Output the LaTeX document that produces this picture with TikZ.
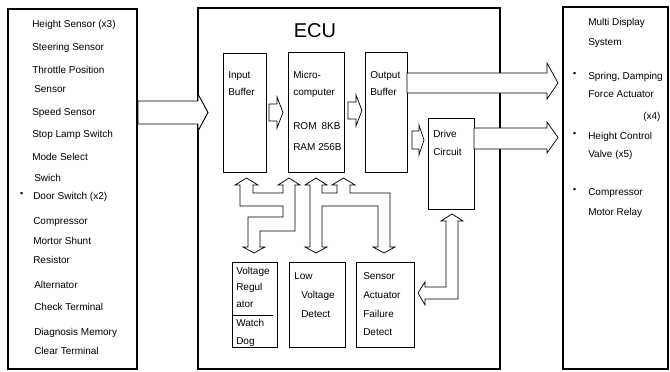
\documentclass[tikz,border=0pt]{standalone}
\usepackage{fontspec}
\setmainfont{Liberation Sans}

\begin{document}
\begin{tikzpicture}[x=.75pt,y=-.75pt,
  outer/.style={line width=.9pt},
  inner/.style={line width=.7pt},
  hollow/.style={line width=.55pt,fill=white,line join=miter},
  lbl/.style={anchor=west,inner sep=0pt,text height=5.4pt,text depth=1.4pt,font=\fontsize{7.5}{8}\selectfont},
  bul/.style={inner sep=0pt,font=\bfseries\fontsize{11}{11}\selectfont}]
\path[use as bounding box] (0,0) rectangle (670,371);

% the three main boxes
\draw[outer] (8,9) rectangle (137,369);
\draw[outer] (198,8) rectangle (500,369);
\draw[outer] (563,7) rectangle (668,369);

% inputs
\node[lbl] (hs) at (32,25) {Height Sensor (x3)};
\node[lbl] (ss) at (32,48) {Steering Sensor};
\node[lbl] (tp) at (32,71) {Throttle Position};
\node[lbl] (tps) at (34,90) {Sensor};
\node[lbl] (sp) at (32,113) {Speed Sensor};
\node[lbl] (sl) at (32,135) {Stop Lamp Switch};
\node[lbl] (ms) at (32,158) {Mode Select};
\node[lbl] (mss) at (34,179) {Swich};
\node[bul] (dsb) at (22,196) {·};
\node[lbl] (ds) at (33,197) {Door Switch (x2)};
\node[lbl] (cm) at (33,222) {Compressor};
\node[lbl] (cms) at (33,242) {Mortor Shunt};
\node[lbl] (cmr) at (33,261) {Resistor};
\node[lbl] (al) at (34,286) {Alternator};
\node[lbl] (ct) at (34,308) {Check Terminal};
\node[lbl] (dm) at (34,333) {Diagnosis Memory};
\node[lbl] (dmc) at (34,352) {Clear Terminal};

% ECU
\node[inner sep=0pt,font=\fontsize{15}{16}\selectfont] (ecu) at (315,31) {ECU};
\draw[inner] (223,53) rectangle (266,172);
\node[lbl] (ib1) at (228,76) {Input};
\node[lbl] (ib2) at (228,93) {Buffer};
\draw[inner] (288,52) rectangle (344,172);
\node[lbl] (mc1) at (293,76) {Micro-};
\node[lbl] (mc2) at (293,93) {computer};
\node[lbl] (rom) at (293,127) {ROM\enspace 8KB};
\node[lbl] (ram) at (293,148) {RAM 256B};
\draw[inner] (365,52) rectangle (407,172);
\node[lbl] (ob1) at (370,76) {Output};
\node[lbl] (ob2) at (370,93) {Buffer};
\draw[inner] (428,118) rectangle (474,209);
\node[lbl] (dc1) at (433,135) {Drive};
\node[lbl] (dc2) at (433,153) {Circuit};

\draw[inner] (232,262) rectangle (277,347);
\node[lbl] (vr1) at (236,272) {Voltage};
\node[lbl] (vr2) at (236,288) {Regul};
\node[lbl] (vr3) at (236,305) {ator};
\draw[inner] (232,315) -- (273,315);
\node[lbl] (wd1) at (236,324) {Watch};
\node[lbl] (wd2) at (236,342) {Dog};
\draw[inner] (289,262) rectangle (345,347);
\node[lbl] (lv1) at (294,277) {Low};
\node[lbl] (lv2) at (301,296) {Voltage};
\node[lbl] (lv3) at (301,315) {Detect};
\draw[inner] (356,262) rectangle (414,347);
\node[lbl] (sf1) at (363,277) {Sensor};
\node[lbl] (sf2) at (363,296) {Actuator};
\node[lbl] (sf3) at (363,315) {Failure};
\node[lbl] (sf4) at (363,333) {Detect};

% outputs
\node[lbl] (md1) at (588,23) {Multi Display};
\node[lbl] (md2) at (588,43) {System};
\node[bul] (sdb) at (575,76) {·};
\node[lbl] (sd1) at (588,77) {Spring, Damping};
\node[lbl] (sd2) at (588,95) {Force Actuator};
\node[lbl] (sd3) at (643,117) {(x4)};
\node[bul] (hcb) at (575,136) {·};
\node[lbl] (hc1) at (588,137) {Height Control};
\node[lbl] (hc2) at (588,155) {Valve (x5)};
\node[bul] (crb) at (575,192) {·};
\node[lbl] (cr1) at (588,193) {Compressor};
\node[lbl] (cr2) at (588,213) {Motor Relay};

% block arrows
\draw[hollow,line width=.7pt] (138,101) -- (198,101) -- (198,94) -- (208,112.5) -- (198,131) -- (198,124) -- (138,124) -- cycle;
\draw[hollow] (269,104) -- (277,104) -- (277,97) -- (283,112.5) -- (277,128) -- (277,121) -- (269,121) -- cycle;
\draw[hollow] (348,102) -- (356,102) -- (356,95) -- (362,110.5) -- (356,126) -- (356,119) -- (348,119) -- cycle;
\draw[hollow] (412,131) -- (419,131) -- (419,125) -- (424,140) -- (419,155) -- (419,149) -- (412,149) -- cycle;
\draw[hollow] (407,73) -- (547,73) -- (547,63) -- (558,83) -- (547,99) -- (547,93) -- (407,93) -- cycle;
\draw[hollow] (474,128) -- (547,128) -- (547,122) -- (558,137.5) -- (547,153) -- (547,149) -- (474,149) -- cycle;

% buses
\draw[hollow] (240,206) -- (240,185) -- (235,185) -- (246.5,178) -- (258,185) -- (253,185) -- (253,193)
  -- (283,193) -- (283,185) -- (278,185) -- (289,178) -- (300,185) -- (295,185) -- (295,231)
  -- (260,231) -- (260,247) -- (265,247) -- (254,253) -- (243,247) -- (248,247) -- (248,217)
  -- (283,217) -- (283,206) -- cycle;
\draw[hollow] (310,247) -- (310,185) -- (305,185) -- (316,178) -- (327,185) -- (322,185) -- (322,193)
  -- (337,193) -- (337,185) -- (332,185) -- (343.5,178) -- (355,185) -- (350,185) -- (350,193)
  -- (390,193) -- (390,247) -- (395,247) -- (384,253) -- (373,247) -- (378,247) -- (378,206)
  -- (322,206) -- (322,247) -- (327,247) -- (316,253) -- (305,247) -- cycle;
\draw[hollow] (446,287) -- (446,221) -- (441,221) -- (452,214) -- (463,221) -- (458,221) -- (458,299)
  -- (425,299) -- (425,305) -- (418,293) -- (425,282) -- (425,287) -- cycle;
\end{tikzpicture}
\end{document}
